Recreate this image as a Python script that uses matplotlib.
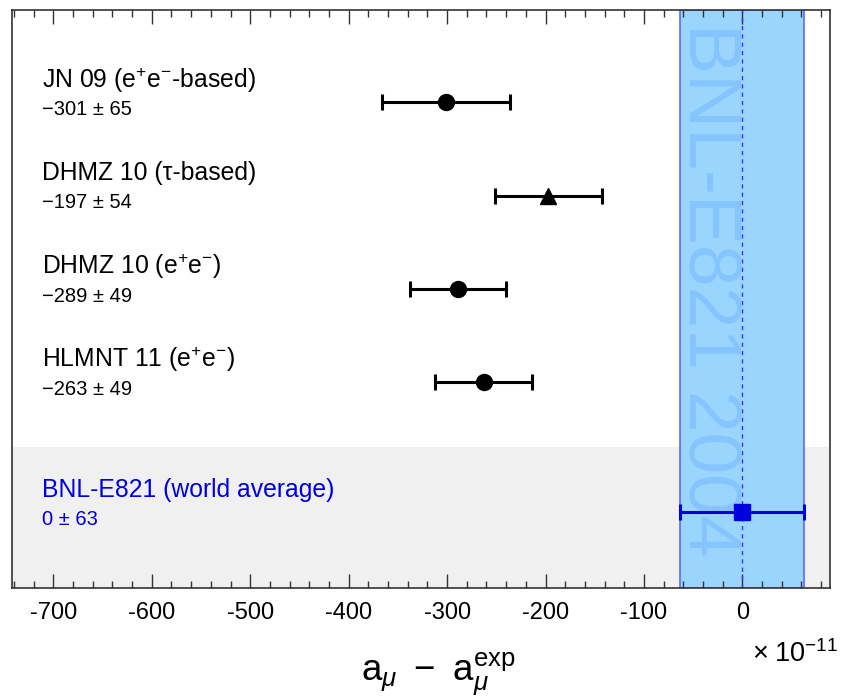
import numpy as np
import matplotlib.pyplot as plt
from matplotlib.ticker import MultipleLocator
import matplotlib.transforms as mtransforms

plt.rcParams['font.family'] = ['Liberation Sans', 'DejaVu Sans']
plt.rcParams['mathtext.fontset'] = 'custom'
plt.rcParams['mathtext.rm'] = 'Liberation Sans'
plt.rcParams['mathtext.it'] = 'Liberation Sans:italic'

# 데이터
names = ['JN 09 (e$^{+}$e$^{-}$-based)', 'DHMZ 10 (τ-based)',
         'DHMZ 10 (e$^{+}$e$^{-}$)', 'HLMNT 11 (e$^{+}$e$^{-}$)',
         'BNL-E821 (world average)']
values = [-301, -197, -289, -263, 0]
errors = [65, 54, 49, 49, 63]
value_labels = ['\u2212301 \u00b1 65', '\u2212197 \u00b1 54', '\u2212289 \u00b1 49',
                '\u2212263 \u00b1 49', '0 \u00b1 63']
markers = ['o', '^', 'o', 'o', 's']
ypos = [5, 4, 3, 2, 0.6]

fig = plt.figure(figsize=(8.48, 7.0), dpi=100)
ax = fig.add_axes([12 / 848, 1 - 588 / 700, 818 / 848, 578 / 700])
ax.set_xlim(-742, 89)
ax.set_ylim(-0.21, 5.99)

# 회색 영역 (실험값)
ax.axhspan(-0.21, 1.3, color='#f0f0f0', zorder=0, lw=0)

# 실험값 밴드
exp_err = errors[-1]
ax.axvspan(-exp_err, exp_err, facecolor='#99d5fd', edgecolor='#5a6cff', lw=1.2, zorder=1)
ax.axvline(0, color='#3333ff', ls=(0, (3, 3)), lw=1, zorder=2)
trans = mtransforms.blended_transform_factory(ax.transData, ax.transAxes)
ax.text(-34, 0.978, 'BNL-E821 2004', transform=trans, rotation=-90,
        ha='center', va='top', fontsize=54, color='#80c0ff', alpha=0.8, zorder=2)

ytrans = mtransforms.blended_transform_factory(ax.transAxes, ax.transData)
for i in range(len(names)):
    col = 'black' if i < 4 else '#0000dd'
    ms = 12 if markers[i] == '^' else 11.5
    if markers[i] == 's':
        ms = 11
    ax.errorbar(values[i], ypos[i], xerr=errors[i], fmt=markers[i], color=col,
                ms=ms, elinewidth=2.2, capsize=5.8, capthick=2.2, zorder=5)
    ax.text(0.037, ypos[i] + 0.24, names[i], transform=ytrans,
            fontsize=17.8, color=col, va='center', ha='left')
    ax.text(0.037, ypos[i] - 0.08, value_labels[i], transform=ytrans,
            fontsize=14.5, color=col, va='center', ha='left')

ax.xaxis.set_minor_locator(MultipleLocator(20))
ax.set_xticks(np.arange(-700, 1, 100))
ax.set_xticklabels([str(v) for v in range(-700, 1, 100)], fontsize=17)
ax.tick_params(axis='x', which='both', direction='in', top=True, bottom=True, pad=10)
ax.tick_params(axis='x', which='major', length=10, width=1, color='#333333')
ax.tick_params(axis='x', which='minor', length=5, width=1, color='#333333')
ax.tick_params(axis='y', left=False, right=False, labelleft=False)
for s in ax.spines.values():
    s.set_color('#333333')
    s.set_linewidth(1.2)

fig.text(438 / 848, 1 - 681 / 700, r'$\mathregular{a}_{\mu}\;\;\mathregular{-}\;\;\mathregular{a}_{\mu}^{\mathregular{exp}}$',
         fontsize=26.5, ha='center', va='baseline')
fig.text(838 / 848, 1 - 662 / 700, r'$\times\;\mathregular{10}^{-11}$', fontsize=19.5, ha='right', va='baseline')

fig.savefig('out.png', dpi=100)
